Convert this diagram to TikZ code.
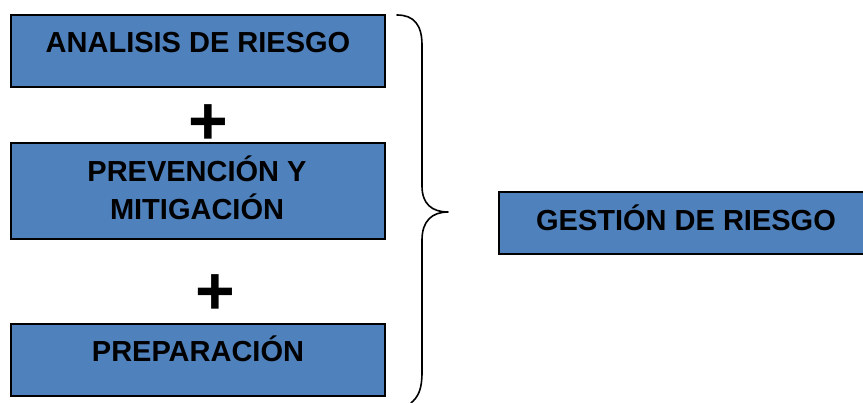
\documentclass[tikz,border=0pt]{standalone}
\usepackage{fontspec}
\setmainfont{Liberation Sans}
\definecolor{boxblue}{HTML}{4F81BD}
\begin{document}
\begin{tikzpicture}[x=1pt,y=-1pt,
  box/.style={draw=black,line width=1.5pt,fill=boxblue,rectangle,inner sep=0pt},
  lbl/.style={font=\bfseries\fontsize{29}{38}\selectfont,align=center,inner sep=0pt},
  plus/.style={font=\bfseries\fontsize{68}{68}\selectfont,inner sep=0pt,anchor=base},
  brace/.style={draw=black,line width=1.6pt,line cap=round,line join=round}]
\useasboundingbox (0,0) rectangle (863,403);
\clip (0,0) rectangle (863,403);
\node[box,minimum width=374,minimum height=72] (b1) at (198,51) {};
\node[lbl,anchor=base] (t1) at (198,53) {ANALISIS DE RIESGO};
\node[plus] (p1) at (208.5,144.5) {+};
\node[box,minimum width=374,minimum height=96] (b2) at (198,191) {};
\node[lbl,anchor=base] (t2a) at (197,182) {PREVENCIÓN Y};
\node[lbl,anchor=base] (t2b) at (197,220) {MITIGACIÓN};
\node[plus] (p2) at (215,315) {+};
\node[box,minimum width=374,minimum height=72] (b3) at (198,360) {};
\node[lbl,anchor=base] (t3) at (198,362) {PREPARACIÓN};
\node[box,minimum width=374,minimum height=62] (b4) at (686,223) {};
\node[lbl,anchor=base] (t4) at (686,231) {GESTIÓN DE RIESGO};
\draw[brace] (397,15) .. controls (414,15) and (422,25) .. (422,45)
  -- (422,186) .. controls (422,204) and (432,212) .. (448,212)
  .. controls (432,212) and (422,221) .. (422,240)
  -- (422,372) .. controls (422,390) and (418,397) .. (411,403);
\end{tikzpicture}
\end{document}
